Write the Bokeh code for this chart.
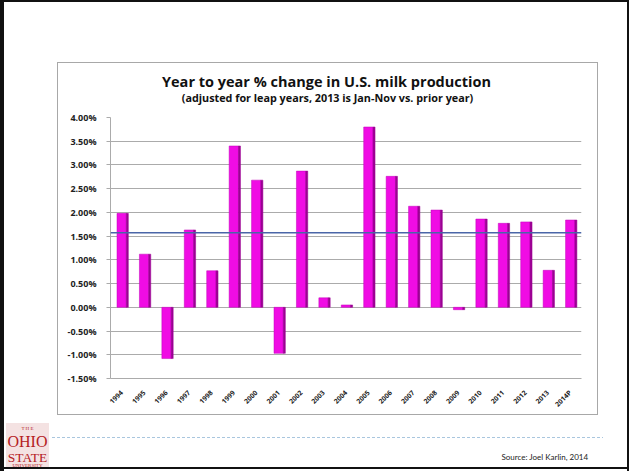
import math
from bokeh.plotting import figure
from bokeh.models import (Range1d, FixedTicker, PrintfTickFormatter, Span, Label,
                          ColumnDataSource)
from bokeh.transform import dodge
from bokeh.embed import file_html
from bokeh.resources import INLINE

years = ["1994", "1995", "1996", "1997", "1998", "1999", "2000", "2001", "2002", "2003",
         "2004", "2005", "2006", "2007", "2008", "2009", "2010", "2011", "2012", "2013", "2014P"]
changes = [1.98, 1.12, -1.08, 1.63, 0.77, 3.40, 2.68, -0.97, 2.87, 0.20,
           0.05, 3.80, 2.76, 2.13, 2.05, -0.05, 1.86, 1.77, 1.80, 0.78, 1.84]
average_change = 1.57
y_ticks = [-1.5, -1.0, -0.5, 0.0, 0.5, 1.0, 1.5, 2.0, 2.5, 3.0, 3.5, 4.0]

title_text = "Year to year % change in U.S. milk production"
subtitle_text = "(adjusted for leap years, 2013 is Jan-Nov vs. prior year)"
source_text = "Source: Joel Karlin, 2014"
logo_lines = ["T H E", "OHIO", "STATE", "UNIVERSITY"]

Y_MIN, Y_MAX = -1.5, 4.0
W, H = 629, 471
FL, FR, FT, FB = 110, 581, 117, 378   # frame edges in page pixels

src = ColumnDataSource(dict(x=years, top=changes))

p = figure(x_range=years, y_range=Range1d(Y_MIN, Y_MAX), width=W, height=H, title=None,
           output_backend="svg", toolbar_location=None,
           min_border_left=FL, min_border_right=W - FR, min_border_top=FT, min_border_bottom=H - FB)
p.background_fill_color = "white"
p.border_fill_color = None
p.outline_line_color = None

# slide decorations drawn as CSS background layers of the figure element
def bar(color, x, y, w, h):
    return f"linear-gradient({color},{color}) {x}px {y}px / {w}px {h}px no-repeat"

layers = [
    bar("#111111", 0, 0, 4, H),
    bar("#111111", 0, 0, W, 2),
    bar("#111111", W - 2, 0, 2, H),
    bar("#111111", 0, H - 4, W, 2),
    bar("#A8A8A8", 57, 62, 540, 1),
    bar("#A8A8A8", 57, 414, 540, 1),
    bar("#A8A8A8", 57, 62, 1, 353),
    bar("#A8A8A8", 597, 62, 1, 353),
    "repeating-linear-gradient(to right, #A9C6DE 0px, #A9C6DE 3px, rgba(0,0,0,0) 3px, rgba(0,0,0,0) 5px) 52px 437px / 551px 1px no-repeat",
    bar("#F4E2E2", 6, 423, 43, 45),
]
p.styles = {"background": ", ".join(layers) + ", #ffffff"}

# bars: front face + darker side for a 3D look
p.vbar(x="x", top="top", bottom=0, width=0.42, source=src,
       fill_color="#F00CE4", line_color="#C000B8", line_width=0.5)
p.vbar(x=dodge("x", 0.25, range=p.x_range), top="top", bottom=0, width=0.09, source=src,
       fill_color="#9C0094", line_color="#9C0094", line_width=0.5)

p.add_layout(Span(location=average_change, dimension="width",
                  line_color="#4A66A8", line_width=1.6))

p.xgrid.grid_line_color = None
p.ygrid.ticker = FixedTicker(ticks=y_ticks)
p.ygrid.grid_line_color = "#ABABAB"
p.ygrid.grid_line_width = 1

p.yaxis.ticker = FixedTicker(ticks=y_ticks)
p.yaxis.formatter = PrintfTickFormatter(format="%.2f%%")
p.yaxis.axis_line_color = "#ABABAB"
p.yaxis.major_tick_line_color = "#ABABAB"
p.yaxis.major_tick_out = 4
p.yaxis.major_tick_in = 0
p.yaxis.minor_tick_line_color = None
p.yaxis.major_label_text_font = "Open Sans"
p.yaxis.major_label_text_font_style = "bold"
p.yaxis.major_label_text_font_size = "9px"
p.yaxis.major_label_text_color = "#222222"
p.yaxis.major_label_standoff = 10

p.xaxis.axis_line_color = "#ABABAB"
p.xaxis.major_tick_line_color = None
p.xaxis.major_label_orientation = math.pi / 4
p.xaxis.major_label_text_font = "Open Sans"
p.xaxis.major_label_text_font_style = "bold"
p.xaxis.major_label_text_font_size = "6.8px"
p.xaxis.major_label_text_color = "#222222"
p.xaxis.major_label_standoff = 7

# texts outside the plot frame: labels in side panels, placed in page (canvas) pixels
def page_label(side, text, x, y, size, font, color, align, style="normal"):
    p.add_layout(Label(x=x, y=y, x_units="canvas", y_units="canvas", text=text,
                       text_font=font, text_font_size=size, text_font_style=style,
                       text_color=color, text_align=align, text_baseline="middle"), side)

page_label("above", title_text, 326, 80.5, "14.5px", "Open Sans", "#111111", "center", "bold")
page_label("above", subtitle_text, 327, 97, "10.8px", "Open Sans", "#111111", "center", "bold")

red = "#B5201E"
page_label("below", logo_lines[0], 27, 428, "5px", "Liberation Serif", red, "center")
page_label("below", logo_lines[1], 27, 441, "16px", "Liberation Serif", red, "center")
page_label("below", logo_lines[2], 27, 457, "13.5px", "Liberation Serif", red, "center")
page_label("below", logo_lines[3], 27, 465, "5px", "Liberation Serif", red, "center")
page_label("below", source_text, 501, 456, "8px", "Lato", "#222222", "left")

open("out.html", "w").write(file_html(p, INLINE))
